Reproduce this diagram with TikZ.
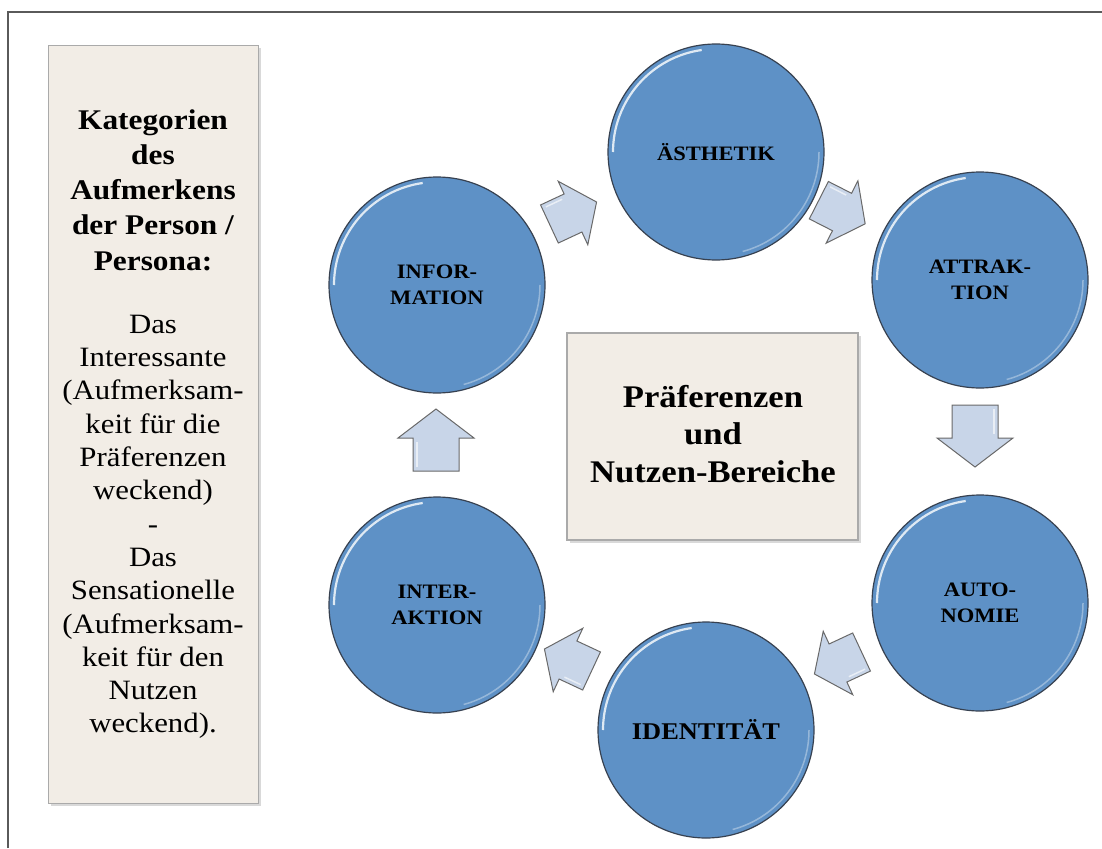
\documentclass[tikz,border=0pt]{standalone}
\usepackage{fontspec}
\setmainfont{Liberation Serif}[FakeStretch=1.1]
\usetikzlibrary{calc}
\definecolor{boxfill}{RGB}{242,237,230}
\definecolor{boxline}{RGB}{170,170,170}
\definecolor{circfill}{RGB}{94,145,198}
\definecolor{circline}{RGB}{55,65,80}
\definecolor{arrfill}{RGB}{200,213,232}
\definecolor{arrline}{RGB}{105,105,105}
\definecolor{framecol}{RGB}{90,90,90}
\tikzset{
  catbox/.style={draw=boxline, line width=1.2pt, fill=boxfill},
  circ/.style={circle, minimum size=216pt, inner sep=0pt, fill=circfill, draw=circline, line width=1.2pt,
     font=\bfseries\fontsize{20.5}{26}\selectfont, align=center, text=black},
  blockarr/.style={fill=arrfill, draw=arrline, line width=1pt, line join=miter},
}
\newcommand{\bigarrow}[3]{%
  \begin{scope}[shift={(#1,#2)}, rotate=#3]
    \draw[blockarr] (-31,-23) -- (2,-23) -- (2,-38) -- (31,0) -- (2,38) -- (2,23) -- (-31,23) -- cycle;
    \draw[white, opacity=0.6, line width=1.5pt] (-27,-19) -- (-2,-19);
  \end{scope}}
\newcommand{\smallarrow}[3]{%
  \begin{scope}[shift={(#1,#2)}, rotate=#3]
    \draw[blockarr] (-26,-21) -- (0,-21) -- (0,-35) -- (26,0) -- (0,35) -- (0,21) -- (-26,21) -- cycle;
    \draw[white, opacity=0.6, line width=1.5pt] (-22,-17) -- (-4,-17);
  \end{scope}}
\begin{document}
\begin{tikzpicture}[x=1pt, y=-1pt]
\useasboundingbox (0,0) rectangle (1102,848);
% frame
\coordinate (ftl) at (8,12);
\coordinate (ftr) at (1102,12);
\coordinate (fbl) at (8,848);
\draw[framecol, line width=2pt] (fbl) -- (ftl) -- (ftr);
% left category box
\fill[black!15] (51,48) rectangle (261,806);
\node[catbox, minimum width=210pt, minimum height=758pt, anchor=north west, inner sep=0pt] (cat) at (48,45) {};
\node[font=\bfseries\fontsize{28.5}{35.3}\selectfont, align=center] (cattitle) at (153,190)
  {Kategorien\\des\\Aufmerkens\\der Person /\\Persona:};
\node[font=\fontsize{28}{33.3}\selectfont, align=center] (cattext) at (153,527)
  {Das\\Interessante\\(Aufmerksam-\\keit für die\\Präferenzen\\weckend)\\-\\Das\\Sensationelle\\(Aufmerksam-\\keit für den\\Nutzen\\weckend).};
% center box
\fill[black!15] (570,336) rectangle (861,543);
\node[catbox, minimum width=291pt, minimum height=207pt, inner sep=0pt] (center) at (712.5,436.5) {};
\node[font=\bfseries\fontsize{31.5}{37.5}\selectfont, align=center] (centertext) at (713,434)
  {Präferenzen\\und\\Nutzen-Bereiche};
% circles
\node[circ] (aest) at (716,152) {ÄSTHETIK};
\node[circ] (attr) at (980,280) {ATTRAK-\\TION};
\node[circ] (auto) at (980,603) {AUTO-\\NOMIE};
\node[circ, font=\bfseries\fontsize{24}{28}\selectfont] (iden) at (706,730) {IDENTITÄT};
\node[circ] (inte) at (437,605) {INTER-\\AKTION};
\node[circ] (info) at (437,285) {INFOR-\\MATION};
% highlights
\foreach \n in {aest,attr,auto,iden,inte,info}{
  \draw[white, opacity=0.8, line width=2.2pt] ($(\n.center)+(-103,0)$) arc[start angle=180, end angle=262, radius=103];
  \draw[white, opacity=0.35, line width=1.5pt] ($(\n.center)+(103,0)$) arc[start angle=0, end angle=75, radius=103];
}
% block arrows
\smallarrow{573}{213}{25}
\smallarrow{842}{212}{-27}
\bigarrow{975}{436}{-90}
\smallarrow{838}{663}{-155}
\smallarrow{568}{660}{155}
\bigarrow{436}{440}{90}
\end{tikzpicture}
\end{document}
